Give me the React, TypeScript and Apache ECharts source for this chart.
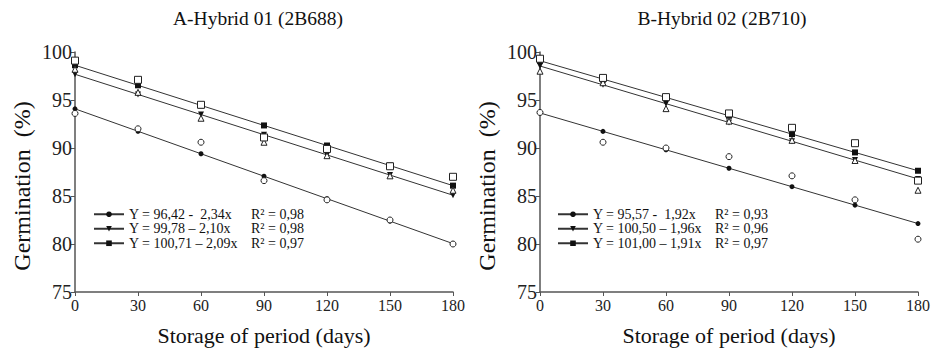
import React, { useEffect, useRef } from "react";
import * as echarts from "echarts";

const days = [0, 30, 60, 90, 120, 150, 180];
const yTicks = [75, 80, 85, 90, 95, 100];

const titles = ["A-Hybrid 01 (2B688)", "B-Hybrid 02 (2B710)"];
const yName = "Germination  (%)";
const xName = "Storage of period (days)";

// fitted (regression) values, panel A
const fitA1 = [94.08, 91.74, 89.4, 87.06, 84.72, 82.38, 80.04];
const fitA2 = [97.68, 95.58, 93.48, 91.38, 89.28, 87.18, 85.08];
const fitA3 = [98.62, 96.53, 94.44, 92.35, 90.26, 88.17, 86.08];
// observed values, panel A
const obsA1 = [93.6, 92.0, 90.6, 86.6, 84.6, 82.5, 80.0];
const obsA2 = [98.2, 95.8, 93.1, 90.6, 89.2, 87.1, 85.6];
const obsA3 = [99.1, 97.1, 94.5, 91.1, 89.9, 88.1, 87.0];

// fitted values, panel B
const fitB1 = [93.65, 91.73, 89.81, 87.89, 85.97, 84.05, 82.13];
const fitB2 = [98.54, 96.58, 94.62, 92.66, 90.7, 88.74, 86.78];
const fitB3 = [99.09, 97.18, 95.27, 93.36, 91.45, 89.54, 87.63];
// observed values, panel B
const obsB1 = [93.7, 90.6, 90.0, 89.1, 87.1, 84.6, 80.5];
const obsB2 = [98.0, 96.8, 94.1, 92.8, 90.8, 88.7, 85.6];
const obsB3 = [99.3, 97.3, 95.3, 93.6, 92.1, 90.5, 86.6];

const eqA = ["Y = 96,42 -  2,34x", "Y = 99,78 – 2,10x", "Y = 100,71 – 2,09x"];
const r2A = ["R² = 0,98", "R² = 0,98", "R² = 0,97"];
const eqB = ["Y = 95,57 -  1,92x", "Y = 100,50 – 1,96x", "Y = 101,00 – 1,91x"];
const r2B = ["R² = 0,93", "R² = 0,96", "R² = 0,97"];

const symbols = ["circle", "triangle", "rect"];
const symbolRot = [0, 180, 0];

const FONT = "Liberation Serif";

export default function App() {
  const ref = useRef<HTMLDivElement>(null);

  useEffect(() => {
    if (!ref.current) return;
    const chart = echarts.init(ref.current, null, { renderer: "svg" });

    const grids = [
      { left: 75, top: 52, width: 378, height: 241 },
      { left: 540, top: 52, width: 378, height: 241 },
    ];

    const mkX = (gi: number) => ({
      type: "value",
      gridIndex: gi,
      min: 0,
      max: 180,
      interval: 30,
      name: xName,
      nameLocation: "middle",
      nameGap: 32,
      nameTextStyle: { fontFamily: FONT, fontSize: 22, color: "#111" },
      axisLine: { show: true, lineStyle: { color: "#555", width: 1.5 } },
      axisTick: { show: true, inside: false, length: 4, lineStyle: { color: "#555" } },
      axisLabel: { fontFamily: FONT, fontSize: 16, color: "#222", margin: 5 },
      splitLine: { show: false },
    });
    const mkY = (gi: number) => ({
      type: "value",
      gridIndex: gi,
      min: yTicks[0],
      max: yTicks[yTicks.length - 1],
      interval: 5,
      axisLine: { show: true, lineStyle: { color: "#555", width: 1.5 } },
      axisTick: { show: true, inside: false, length: 4, lineStyle: { color: "#555" } },
      axisLabel: { fontFamily: FONT, fontSize: 20, color: "#222", margin: 3 },
      splitLine: { show: false },
    });

    const fits = [
      [fitA1, fitA2, fitA3],
      [fitB1, fitB2, fitB3],
    ];
    const obs = [
      [obsA1, obsA2, obsA3],
      [obsB1, obsB2, obsB3],
    ];
    const eqs = [eqA, eqB];
    const r2s = [r2A, r2B];

    const series: any[] = [];
    for (let g = 0; g < 2; g++) {
      for (let i = 0; i < 3; i++) {
        series.push({
          type: "line",
          name: eqs[g][i],
          xAxisIndex: g,
          yAxisIndex: g,
          data: days.map((d, k) => [d, fits[g][i][k]]),
          symbol: symbols[i],
          symbolRotate: symbolRot[i],
          symbolSize: i === 0 ? 5 : 6,
          showAllSymbol: true,
          lineStyle: { color: "#333", width: 1 },
          itemStyle: { color: "#111" },
          z: 2,
        });
      }
      for (let i = 0; i < 3; i++) {
        series.push({
          type: "scatter",
          name: "obs" + g + i,
          xAxisIndex: g,
          yAxisIndex: g,
          data: days.map((d, k) => [d, obs[g][i][k]]),
          symbol: symbols[i],
          symbolSize: i === 2 ? 7 : 6,
          itemStyle: { color: "#fff", borderColor: "#222", borderWidth: 1, opacity: 1 },
          z: 3,
        });
      }
    }

    const mkLegend = (g: number, left: number) => ({
      left,
      top: 202,
      orient: "vertical",
      itemGap: 0,
      itemWidth: 30,
      itemHeight: 7,
      data: eqs[g],
      textStyle: {
        fontFamily: FONT,
        fontSize: 14,
        color: "#111",
        lineHeight: 14.5,
        rich: {
          a: { fontFamily: FONT, fontSize: 14, color: "#111", width: 122, lineHeight: 14.5 },
          b: { fontFamily: FONT, fontSize: 14, color: "#111", lineHeight: 14.5 },
        },
      },
      formatter: (name: string) => {
        const idx = eqs[g].indexOf(name);
        return "{a|" + name + "}{b|" + r2s[g][idx] + "}";
      },
    });

    const mkText = (text: string, x: number, y: number, size: number, rot = 0) => ({
      type: "text",
      x,
      y,
      rotation: rot,
      style: {
        text,
        fontFamily: FONT,
        fontSize: size,
        fill: "#111",
        textAlign: "center",
        textVerticalAlign: "middle",
      },
    });

    chart.setOption({
      animation: false,
      backgroundColor: "#fff",
      grid: grids,
      xAxis: [mkX(0), mkX(1)],
      yAxis: [mkY(0), mkY(1)],
      legend: [mkLegend(0, 88), mkLegend(1, 552)],
      series,
      graphic: [
        mkText(titles[0], 258, 18, 19.5),
        mkText(titles[1], 722, 18, 19.5),
        mkText(yName, 22, 186, 24, Math.PI / 2),
        mkText(yName, 487, 186, 24, Math.PI / 2),
      ],
    });

    return () => chart.dispose();
  }, []);

  return (
    <div
      ref={ref}
      style={{ position: "fixed", left: 0, top: 0, width: 934, height: 351, background: "#fff" }}
    />
  );
}
